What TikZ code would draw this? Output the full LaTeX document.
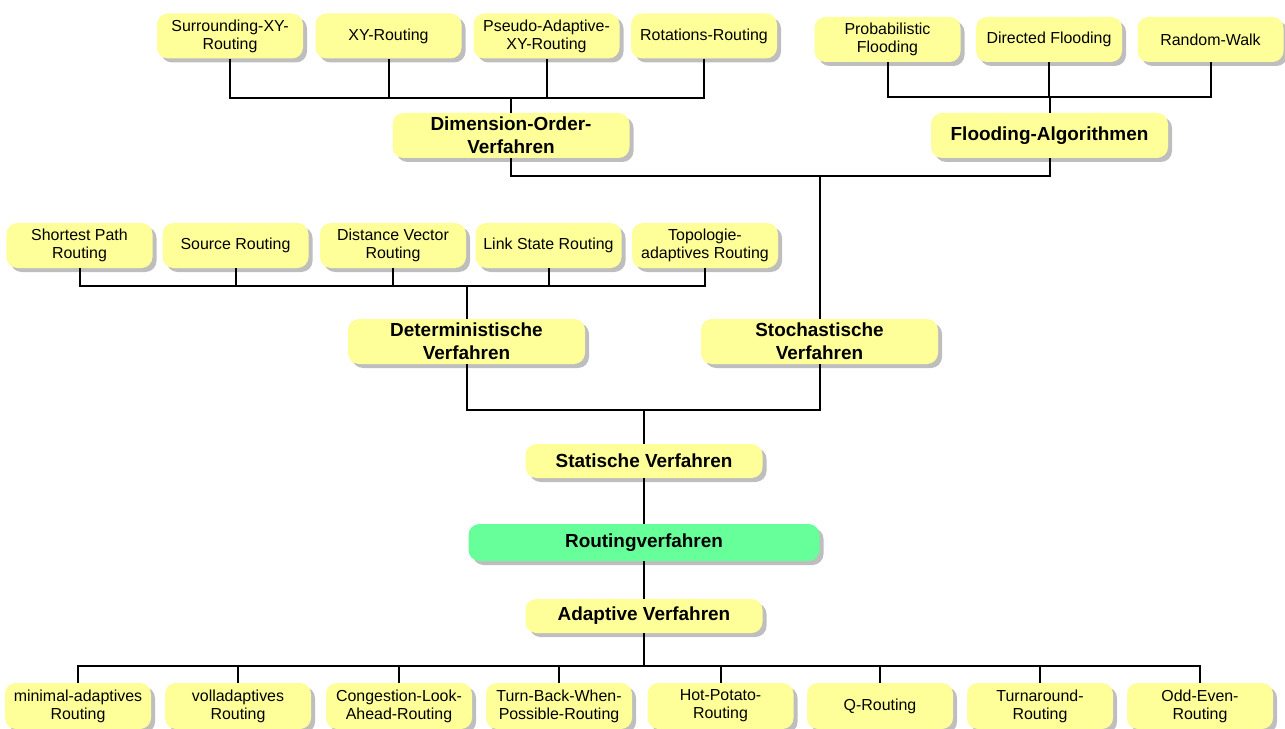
\documentclass[tikz,border=0pt]{standalone}
\usepackage{fontspec}
\setmainfont{Liberation Sans}
\usetikzlibrary{shadows}
\definecolor{boxyellow}{HTML}{FFFF99}
\definecolor{boxgreen}{HTML}{66FF99}
\definecolor{shadowgray}{HTML}{BEBEBE}
\tikzset{
  box/.style={draw=none, rounded corners=11bp, inner sep=0pt, align=center,
    fill=boxyellow,
    drop shadow={shadow xshift=4bp, shadow yshift=-4bp, fill=shadowgray, opacity=1}},
  leaf/.style={box, minimum width=146bp, minimum height=45bp,
    font=\fontsize{16}{18.3}\selectfont},
  group/.style={box, minimum width=237bp, minimum height=45bp,
    font=\fontsize{19}{22.7}\selectfont\bfseries},
  flat/.style={group, minimum height=34bp},
  root/.style={group, minimum width=351bp, minimum height=37bp, fill=boxgreen},
  link/.style={draw=black, line width=2bp, line join=miter}
}
\begin{document}
\begin{tikzpicture}[x=1bp, y=-1bp]
\useasboundingbox (0,0) rectangle (1285,729);

% dimension-order branch
\node[leaf] (surr)   at (230,36)   {Surrounding-XY-\\Routing};
\node[leaf] (xy)     at (388.5,36) {XY-Routing};
\node[leaf] (pseudo) at (546.5,36) {Pseudo-Adaptive-\\XY-Routing};
\node[leaf] (rot)    at (704,36)   {Rotations-Routing};
\node[group] (dim)   at (511,135.5) {Dimension-Order-\\Verfahren};

% flooding branch
\node[leaf] (prob) at (887.5,39.5)  {Probabilistic\\Flooding};
\node[leaf] (dir)  at (1049,39.5)   {Directed Flooding};
\node[leaf] (rw)   at (1210.5,39.5) {Random-Walk};
\node[group] (flo) at (1049.5,135.5) {Flooding-Algorithmen};

% deterministic branch
\node[leaf] (sp)   at (79.5,245.5)  {Shortest Path\\Routing};
\node[leaf] (src)  at (235.5,245.5) {Source Routing};
\node[leaf] (dv)   at (393,245.5)   {Distance Vector\\Routing};
\node[leaf] (ls)   at (548.5,245.5) {Link State Routing};
\node[leaf] (topo) at (705,245.5)   {Topologie-\\adaptives Routing};

\node[group] (det) at (466.5,341.5) {Deterministische\\Verfahren};
\node[group] (sto) at (819.5,341.5) {Stochastische\\Verfahren};

% central column
\node[flat] (sta) at (644,461)   {Statische Verfahren};
\node[root] (rv)  at (644,542.5) {Routingverfahren};
\node[flat] (ada) at (644,616)   {Adaptive Verfahren};

% adaptive branch
\node[leaf, minimum height=46bp] (b1) at (78,706)   {minimal-adaptives\\Routing};
\node[leaf, minimum height=46bp] (b2) at (238,706)  {volladaptives\\Routing};
\node[leaf, minimum height=46bp] (b3) at (399,706)  {Congestion-Look-\\Ahead-Routing};
\node[leaf, minimum height=46bp] (b4) at (559,706)  {Turn-Back-When-\\Possible-Routing};
\node[leaf, minimum height=46bp] (b5) at (720.5,706) {Hot-Potato-\\Routing};
\node[leaf, minimum height=46bp] (b6) at (880,706)  {Q-Routing};
\node[leaf, minimum height=46bp] (b7) at (1040,706) {Turnaround-\\Routing};
\node[leaf, minimum height=46bp] (b8) at (1200,706) {Odd-Even-\\Routing};

% junction points of the tree
\coordinate (jDim) at (511,98);
\coordinate (jFlo) at (1049.5,97);
\coordinate (jSto) at (819.5,176);
\coordinate (jDet) at (466.5,286);
\coordinate (jSta) at (644,410);
\coordinate (jAda) at (644,666);

% connectors
\foreach \c in {surr,xy,pseudo,rot} \draw[link] (\c.south) |- (jDim);
\draw[link] (jDim) -- (dim.north);
\foreach \c in {prob,dir,rw} \draw[link] (\c.south) |- (jFlo);
\draw[link] (jFlo) -- (flo.north);
\draw[link] (dim.south) |- (jSto) -| (flo.south);
\draw[link] (jSto) -- (sto.north);
\foreach \c in {sp,src,dv,ls,topo} \draw[link] (\c.south) |- (jDet);
\draw[link] (jDet) -- (det.north);
\draw[link] (det.south) |- (jSta) -| (sto.south);
\draw[link] (jSta) -- (sta.north);
\draw[link] (sta.south) -- (rv.north);
\draw[link] (rv.south) -- (ada.north);
\draw[link] (ada.south) -- (jAda);
\foreach \c in {b1,b2,b3,b4,b5,b6,b7,b8} \draw[link] (jAda) -| (\c.north);
\end{tikzpicture}
\end{document}
